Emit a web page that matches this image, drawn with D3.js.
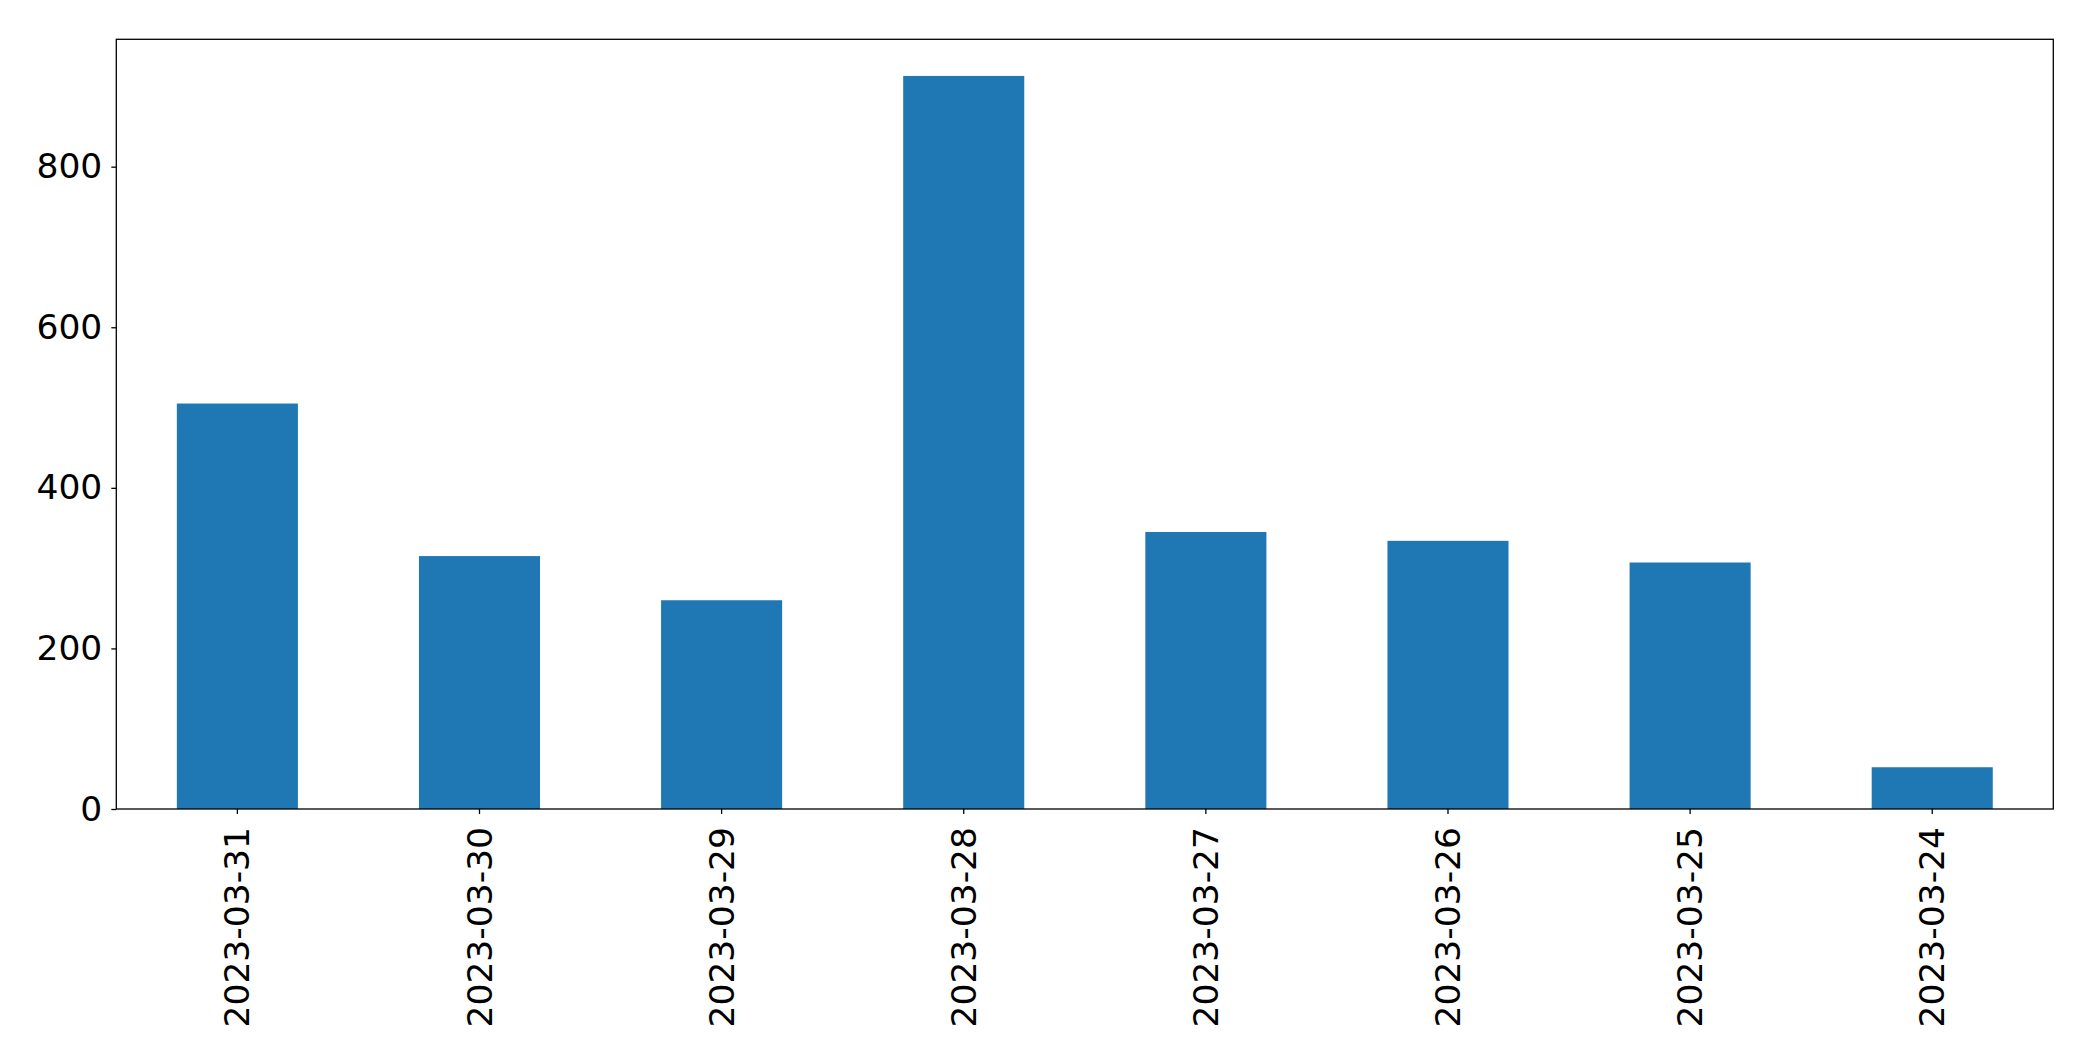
<!DOCTYPE html>
<html>
<head>
<meta charset="utf-8">
<script src="https://cdn.jsdelivr.net/npm/d3@7"></script>
<style>
  html, body { margin: 0; padding: 0; background: #fff; }
  svg { display: block; }
  text { font-family: "DejaVu Sans", sans-serif; }
</style>
</head>
<body>
<svg id="chart" width="2093" height="1061"></svg>
<script>
const categories = ["2023-03-31", "2023-03-30", "2023-03-29", "2023-03-28", "2023-03-27", "2023-03-26", "2023-03-25", "2023-03-24"];
const values = [505, 315, 260, 913, 345, 334, 307, 52];
const yTicks = [0, 200, 400, 600, 800];

const W = 2093, H = 1061;
const margin = { left: 116.3, right: W - 2053.3, top: 39.3, bottom: H - 809 };
const svg = d3.select("#chart");

const x = d3.scaleBand()
  .domain(categories)
  .range([margin.left, W - margin.right])
  .padding(0);

const y = d3.scaleLinear()
  .domain([0, d3.max(values) * 1.05])
  .range([H - margin.bottom, margin.top]);

const barW = x.bandwidth() * 0.5;

svg.append("g")
  .selectAll("rect")
  .data(values)
  .join("rect")
  .attr("x", (d, i) => x(categories[i]) + (x.bandwidth() - barW) / 2)
  .attr("y", d => y(d))
  .attr("width", barW)
  .attr("height", d => y(0) - y(d))
  .attr("fill", "#1f77b4");

const fontSize = 34.5;

// Y axis
const yAxis = svg.append("g")
  .attr("transform", `translate(${margin.left},0)`)
  .call(d3.axisLeft(y).tickValues(yTicks).tickSize(5).tickPadding(9).tickFormat(d3.format("d")));
yAxis.select(".domain").remove();
yAxis.selectAll(".tick line").attr("stroke", "#000").attr("stroke-width", 1.3);
yAxis.selectAll(".tick text")
  .attr("font-size", fontSize)
  .attr("font-family", "DejaVu Sans")
  .attr("fill", "#000");

// X axis
const xAxis = svg.append("g")
  .attr("transform", `translate(0,${H - margin.bottom})`)
  .call(d3.axisBottom(x).tickSize(5).tickPadding(0));
xAxis.select(".domain").remove();
xAxis.selectAll(".tick line").attr("stroke", "#000").attr("stroke-width", 1.3);
xAxis.selectAll(".tick text")
  .attr("font-size", fontSize)
  .attr("font-family", "DejaVu Sans")
  .attr("fill", "#000")
  .attr("text-anchor", "end")
  .attr("dy", "0.35em")
  .attr("transform", "translate(0,18) rotate(-90)")
  .attr("x", 0)
  .attr("y", 0);

// Frame
svg.append("rect")
  .attr("x", margin.left)
  .attr("y", margin.top)
  .attr("width", W - margin.right - margin.left)
  .attr("height", H - margin.bottom - margin.top)
  .attr("fill", "none")
  .attr("stroke", "#000")
  .attr("stroke-width", 1.3);
</script>
</body>
</html>
